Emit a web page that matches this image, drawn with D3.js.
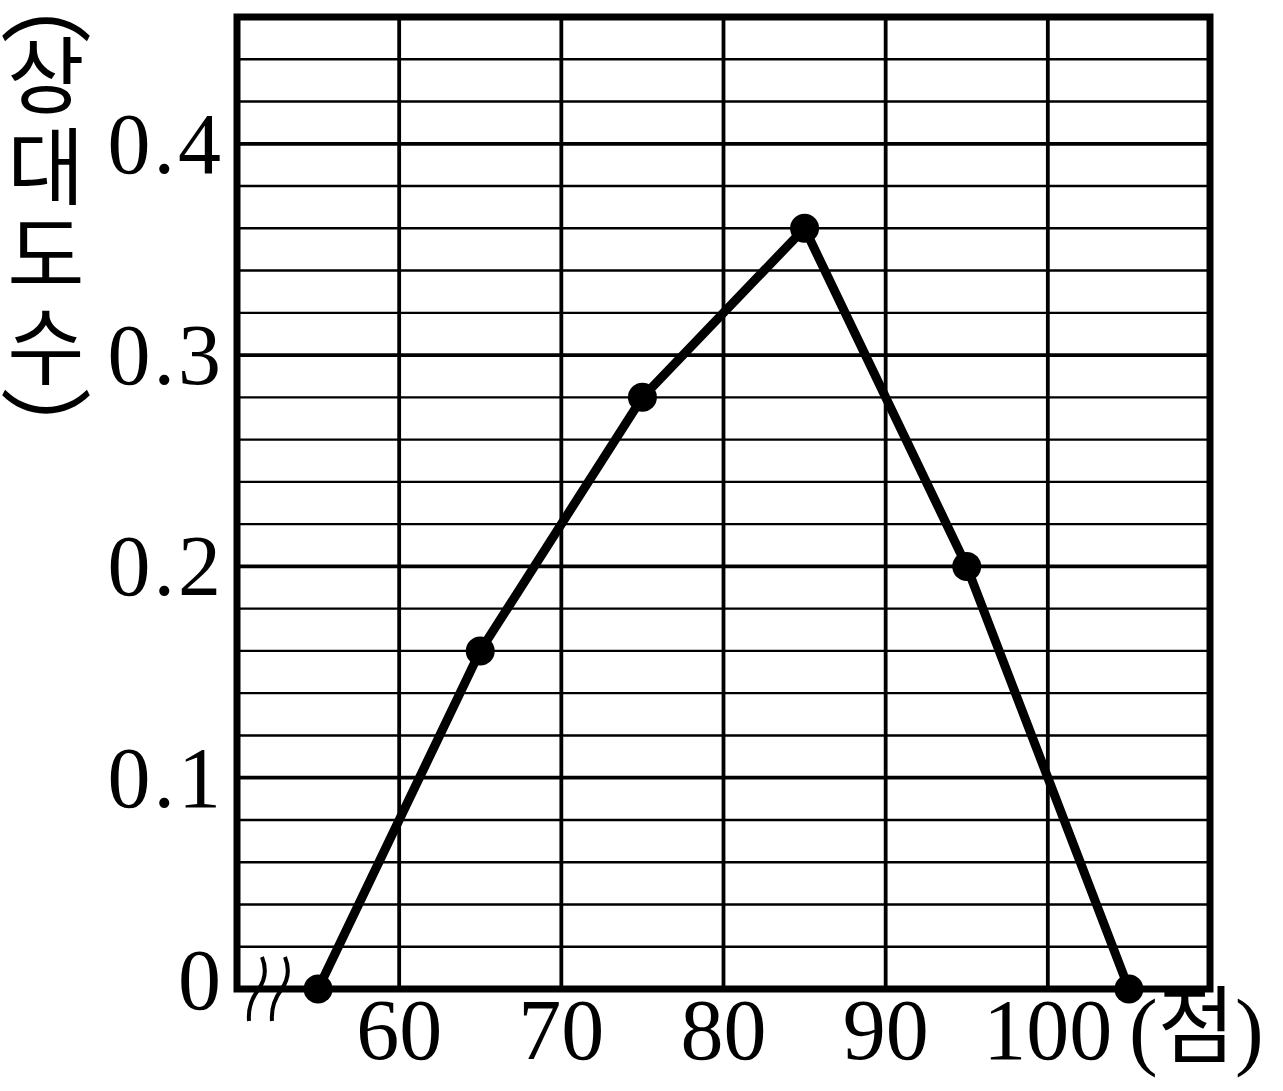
<!DOCTYPE html>
<html><head><meta charset="utf-8">
<script src="https://cdn.jsdelivr.net/npm/d3@7"></script>
<style>body{margin:0;background:#fff}</style>
</head><body>
<script>
const scores = [55, 65, 75, 85, 95, 105];
const relFreq = [0, 0.16, 0.28, 0.36, 0.2, 0];
const xTicks = [60, 70, 80, 90, 100];
const xTickLabels = ["60", "70", "80", "90", "100"];
const yTicks = [0, 0.1, 0.2, 0.3, 0.4];
const yTickLabels = ["0", "0.1", "0.2", "0.3", "0.4"];
const yMinor = d3.range(0, 0.461, 0.02);
const yLabelChars = ["︵", "상", "대", "도", "수", "︶"];
const xUnit = "(점)";

const W = 1283, H = 1091;
const svg = d3.select("body").append("svg").attr("width", W).attr("height", H);
const x = d3.scaleLinear().domain([50, 110]).range([237, 1210]);
const y = d3.scaleLinear().domain([0, 0.46]).range([989, 17]);

const serif = "'Liberation Serif','DejaVu Serif',serif";
const kr = "'Noto Sans CJK KR','Noto Sans CJK SC',sans-serif";

// minor horizontal lines
svg.append("g").selectAll("line").data(yMinor).join("line")
  .attr("x1", x(50)).attr("x2", x(110))
  .attr("y1", d => y(d)).attr("y2", d => y(d))
  .attr("stroke", "#000")
  .attr("stroke-width", d => Math.abs(d*10 - Math.round(d*10)) < 1e-6 ? 3.8 : 2.4);

// vertical grid
svg.append("g").selectAll("line").data(d3.range(60, 110, 10)).join("line")
  .attr("x1", d => x(d)).attr("x2", d => x(d))
  .attr("y1", y(0.46)).attr("y2", y(0))
  .attr("stroke", "#000").attr("stroke-width", 3.8);

// border
svg.append("rect").attr("x", x(50)).attr("y", y(0.46))
  .attr("width", x(110) - x(50)).attr("height", y(0) - y(0.46))
  .attr("fill", "none").attr("stroke", "#000").attr("stroke-width", 7);

// break symbol
[0, 23].forEach(dx => {
  const x0 = 262 + dx;
  svg.append("path")
    .attr("d", `M${x0},957 C${x0+6},972 ${x0+2},982 ${x0-4},990 S${x0-14},1008 ${x0-13},1021`)
    .attr("fill", "none").attr("stroke", "#000").attr("stroke-width", 4);
});

// polygon line
const line = d3.line().x((d, i) => x(scores[i])).y(d => y(d));
svg.append("path").datum(relFreq).attr("d", line)
  .attr("fill", "none").attr("stroke", "#000").attr("stroke-width", 9)
  .attr("stroke-linejoin", "round");
svg.append("g").selectAll("circle").data(relFreq).join("circle")
  .attr("cx", (d, i) => x(scores[i])).attr("cy", d => y(d)).attr("r", 14.5).attr("fill", "#000");

// y tick labels
svg.append("g").selectAll("text").data(yTicks).join("text")
  .attr("x", 224).attr("y", (d, i) => y(d) + (i === 0 ? 20 : 29))
  .attr("text-anchor", "end").attr("font-family", serif).attr("font-size", 86)
  .attr("letter-spacing", 3)
  .text((d, i) => yTickLabels[i]);

// x tick labels
svg.append("g").selectAll("text").data(xTicks).join("text")
  .attr("x", d => x(d)).attr("y", 1059)
  .attr("text-anchor", "middle").attr("font-family", serif).attr("font-size", 86)
  .text((d, i) => xTickLabels[i]);

// x unit
const xu = svg.append("text").attr("x", 1129).attr("y", 1059)
  .attr("font-size", 86);
xu.append("tspan").attr("font-family", serif).text(xUnit[0]);
xu.append("tspan").attr("font-family", kr).attr("font-size", 84).attr("dy", -3).text(xUnit[1]);
xu.append("tspan").attr("font-family", serif).attr("dy", 3).text(xUnit[2]);

// y axis label (stacked characters)
const labelY = [34, 107, 198, 286, 378, 467];
svg.append("g").selectAll("text").data(yLabelChars).join("text")
  .attr("x", 46).attr("y", (d, i) => labelY[i])
  .attr("text-anchor", "middle")
  .attr("font-family", kr).attr("font-size", (d, i) => (i === 0 || i === 5) ? 92 : 84)
  .text(d => d);
</script>
</body></html>
